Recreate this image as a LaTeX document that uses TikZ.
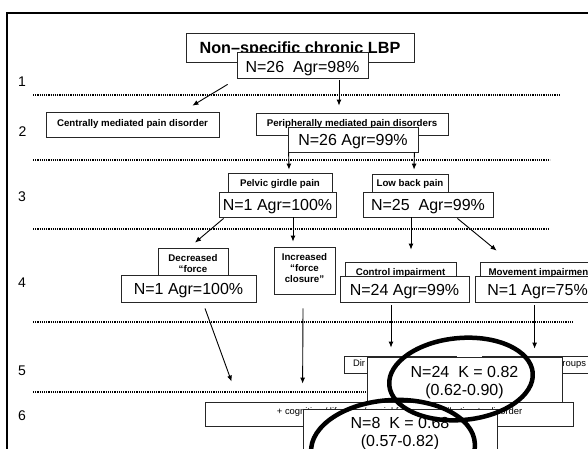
\documentclass[tikz,border=0pt]{standalone}
\usepackage{fontspec}
\setmainfont{Liberation Sans}
\usetikzlibrary{arrows.meta}

% \placebox{name}{x1}{y1}{x2}{y2}{style}{text}: a box given by its corners
\newcommand\placebox[7]{%
  \node[#6, minimum width={(#4)-(#2)}, minimum height={(#5)-(#3)}]
    (#1) at ({((#2)+(#4))/2},{((#3)+(#5))/2}) {#7};}

\tikzset{
  x=1pt, y=-1pt,
  % baseline placement inside a box: bl lowers it, bd raises it
  bl/.style={text height=#1pt, text depth=0pt},
  bd/.style={text height=0pt, text depth=#1pt},
  box/.style={draw=black!85, line width=0.8pt, fill=white, inner sep=0pt},
  big/.style={box, font=\fontsize{16}{18}\selectfont, bl=12},
  tag/.style={box, font=\bfseries\fontsize{9.7}{11}\selectfont},
  note/.style={box, font=\fontsize{9.4}{11}\selectfont},
  num/.style={font=\fontsize{14}{16}\selectfont, inner sep=0pt, bl=10},
  sep/.style={line width=1.1pt, dash pattern=on 1.1pt off 1.1pt},
  arr/.style={line width=0.9pt, -{Latex[length=6pt,width=5pt]}},
  ring/.style={line width=4.5pt},
}

\begin{document}
\begin{tikzpicture}
\useasboundingbox (0,0) rectangle (588,448);

% frame
\draw[line width=1.9pt] (7.4,452) -- (7.4,13) -- (592,13);

% level separators
\draw[sep] (33,95) -- (559,95);
\draw[sep] (33,160) -- (550,160);
\draw[sep] (33,229) -- (548,229);
\draw[sep] (33,322) -- (573,322);
\draw[sep] (33,392) -- (560,392);

% level numbers
\node[num] (l1) at (22,81) {1};
\node[num] (l2) at (22.5,131.3) {2};
\node[num] (l3) at (22,196.7) {3};
\node[num] (l4) at (22,282.5) {4};
\node[num] (l5) at (22,370.3) {5};
\node[num] (l6) at (22,415.3) {6};

% level 1
\placebox{root}{186}{33}{414}{62}{box, font=\bfseries\fontsize{16.2}{18}\selectfont, bl=11.6}{Non–specific chronic LBP}
\placebox{rootN}{237}{52}{368}{78}{big, bl=15}{N=26\ \ Agr=98\%}

% level 2
\placebox{central}{46}{112}{219}{137}{tag, bl=4.4}{Centrally mediated pain disorder}
\placebox{periph}{256}{113}{448}{135}{tag, bl=4}{Peripherally mediated pain disorders}
\placebox{periphN}{288}{127}{418}{152}{big}{N=26 Agr=99\%}

% level 3
\placebox{pelvic}{228}{173}{332}{192}{tag, bl=7}{Pelvic girdle pain}
\placebox{pelvicN}{219}{192}{336}{217}{big}{N=1 Agr=100\%}
\placebox{lbp}{372}{174}{448}{192}{tag, bl=7.4}{Low back pain}
\placebox{lbpN}{363}{192}{493}{217}{big}{N=25\ \ Agr=99\%}

% level 4
\placebox{decr}{158}{248}{228}{275}{tag, bd=1}{\begin{tabular}[t]{@{}c@{}}Decreased\\“force\end{tabular}}
\placebox{decrN}{121}{275}{256}{302}{big}{N=1 Agr=100\%}
\placebox{incr}{274}{247}{335}{294}{tag, bd=19.6}{\begin{tabular}[t]{@{}c@{}}Increased\\“force\\closure”\end{tabular}}
\placebox{ctrl}{345}{262}{456}{277}{tag, bl=11}{Control impairment}
\placebox{ctrlN}{340}{276}{469}{302}{big}{N=24 Agr=99\%}
\placebox{move}{480}{262}{600}{277}{tag, bl=11}{Movement impairment}
\placebox{moveN}{475}{276}{600}{302}{big}{N=1 Agr=75\%}

% level 5
\placebox{dir}{344}{356}{456}{373}{note, bl=3}{\makebox[94pt][l]{Dir}}
\placebox{grp}{482}{356}{600}{373}{note, bl=3}{\makebox[90pt][r]{roups}}
\placebox{kappaA}{367}{357}{562}{402}{big, bd=5}{\begin{tabular}[t]{@{}c@{}}N=24\ \ K = 0.82\\(0.62-0.90)\end{tabular}}

% level 6
\placebox{cog}{205}{402}{573}{426}{note, bl=-1}{\hspace*{21.2pt}+ cognitive / lifestyle / social factors contributing to disorder}
\placebox{kappaB}{303}{409}{497}{480}{big, bd=33}{\begin{tabular}[t]{@{}c@{}}N=8\ \ K = 0.68\\(0.57-0.82)\end{tabular}}

% connectors
\draw[arr] ([shift={(-9,6)}]rootN.south west) -- ([shift={(-27,-6)}]central.north east);
\draw[arr] ([shift={(36.5,2)}]rootN.south) -- ([shift={(-13,-7)}]periph.north);
\draw[arr] ([shift={(1,0)}]periphN.south west) -- ([shift={(9,-3)}]pelvic.north);
\draw[arr] ([shift={(-4,0)}]periphN.south east) -- ([shift={(4,-4)}]lbp.north);
\draw[arr] ([shift={(5,1)}]pelvicN.south west) -- ([shift={(2,-5)}]decr.north);
\draw[arr] ([shift={(15.5,0)}]pelvicN.south) -- ([shift={(-11.5,-5)}]incr.north);
\draw[arr] ([shift={(-17,0)}]lbpN.south) -- ([shift={(10.5,-12)}]ctrl.north);
\draw[arr] ([shift={(-36,1)}]lbpN.south east) -- ([shift={(17,-11)}]move.north west);
\draw[arr] ([shift={(16.5,6)}]decrN.south) -- ([shift={(27,-20)}]cog.north west);
\draw[arr] ([shift={(-1.5,14)}]incr.south) -- ([shift={(98,-18)}]cog.north west);
\draw[arr] ([shift={(-13.5,3)}]ctrlN.south) -- ([shift={(-9,-8)}]dir.north);
\draw[arr] ([shift={(60,3)}]moveN.south west) -- ([shift={(53,-7)}]grp.north west);

% agreement rings
\draw[ring, rotate around={5:(461,379)}] (461,379) ellipse [x radius=72, y radius=41];
\draw[ring, rotate around={3:(393,448)}] (393,448) ellipse [x radius=82, y radius=48];
\end{tikzpicture}
\end{document}
